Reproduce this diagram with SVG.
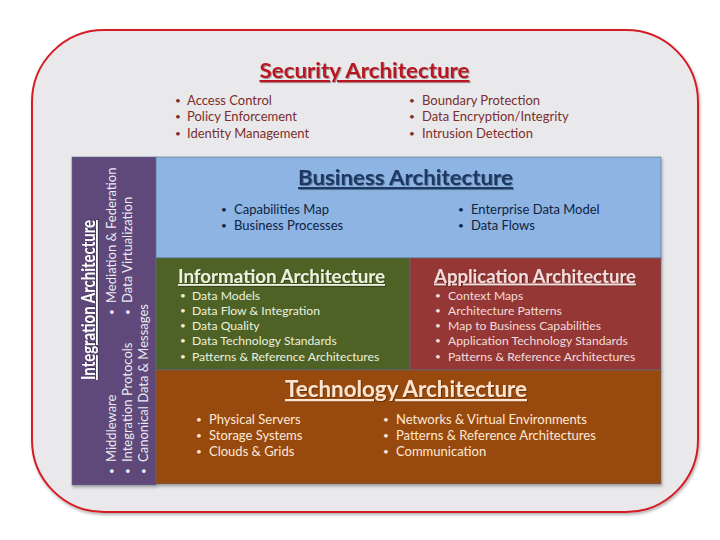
<svg xmlns="http://www.w3.org/2000/svg" width="720" height="540" viewBox="0 0 720 540">
  <defs>
    <filter id="boxShadow" x="-5%" y="-5%" width="110%" height="115%">
      <feDropShadow dx="1" dy="2" stdDeviation="1.5" flood-color="#000" flood-opacity="0.3"/>
    </filter>
    <filter id="txtShadow" x="-5%" y="-20%" width="110%" height="150%">
      <feDropShadow dx="1" dy="1" stdDeviation="0.7" flood-color="#000" flood-opacity="0.35"/>
    </filter>
  </defs>
  <style>
    text { font-family: Lato, "Open Sans", "Liberation Sans", sans-serif; }
    .title { font-weight: bold; text-decoration: underline; filter: url(#txtShadow); }
    .box { stroke: #5a6f8f; stroke-opacity: 0.6; stroke-width: 1; filter: url(#boxShadow); }
    .b13 { font-size: 13px; }
    .b12 { font-size: 12.2px; }
    .dot { font-size: 10px; }
  </style>
  <rect width="720" height="540" fill="#ffffff"/>

  <g id="security">
    <rect x="32" y="30" width="666" height="482" rx="72" ry="72" fill="#e9e9eb" stroke="#d41f26" stroke-width="2" filter="url(#boxShadow)"/>
    <text class="title" x="364.5" y="78" text-anchor="middle" font-size="21.5" fill="#b81820" textLength="210" lengthAdjust="spacingAndGlyphs">Security Architecture</text>
    <g class="b13" fill="#7a2e2e">
      <text class="dot" x="175" y="104">•</text><text x="187" y="105">Access Control</text>
      <text class="dot" x="175" y="120">•</text><text x="187" y="121">Policy Enforcement</text>
      <text class="dot" x="175" y="137">•</text><text x="187" y="138">Identity Management</text>
      <text class="dot" x="409" y="104">•</text><text x="422" y="105">Boundary Protection</text>
      <text class="dot" x="409" y="120">•</text><text x="422" y="121">Data Encryption/Integrity</text>
      <text class="dot" x="409" y="137">•</text><text x="422" y="138">Intrusion Detection</text>
    </g>
  </g>

  <g id="integration">
    <rect class="box" x="72" y="157" width="84" height="328" fill="#5f497a"/>
    <g transform="rotate(-90)">
      <text class="title" x="-300" y="95" text-anchor="middle" font-size="18" fill="#ffffff" textLength="160" lengthAdjust="spacingAndGlyphs">Integration Architecture</text>
      <g class="b13" fill="#eeeaf3">
        <text class="dot" x="-474" y="115">•</text><text x="-462" y="116">Middleware</text>
        <text class="dot" x="-474" y="131">•</text><text x="-462" y="132">Integration Protocols</text>
        <text class="dot" x="-474" y="147">•</text><text x="-462" y="148">Canonical Data &amp; Messages</text>
        <text class="dot" x="-315" y="115">•</text><text x="-303" y="116">Mediation &amp; Federation</text>
        <text class="dot" x="-315" y="131">•</text><text x="-303" y="132">Data Virtualization</text>
      </g>
    </g>
  </g>

  <g id="business">
    <rect class="box" x="156" y="157" width="505" height="101" fill="#8db4e2"/>
    <text class="title" x="405.5" y="185" text-anchor="middle" font-size="21" fill="#1f3864" textLength="215" lengthAdjust="spacingAndGlyphs">Business Architecture</text>
    <g class="b13" fill="#10233f">
      <text class="dot" x="221" y="213">•</text><text x="234" y="214">Capabilities Map</text>
      <text class="dot" x="221" y="229">•</text><text x="234" y="230">Business Processes</text>
      <text class="dot" x="458" y="213">•</text><text x="471" y="214">Enterprise Data Model</text>
      <text class="dot" x="458" y="229">•</text><text x="471" y="230">Data Flows</text>
    </g>
  </g>

  <g id="information">
    <rect class="box" x="156" y="258" width="254" height="112" fill="#4f6228"/>
    <text class="title" x="281.5" y="283" text-anchor="middle" font-size="18" fill="#ebf1de" textLength="207" lengthAdjust="spacingAndGlyphs">Information Architecture</text>
    <g class="b12" fill="#ebf1de">
      <text class="dot" x="180" y="298.5">•</text><text x="192" y="299.5">Data Models</text>
      <text class="dot" x="180" y="313.5">•</text><text x="192" y="314.5">Data Flow &amp; Integration</text>
      <text class="dot" x="180" y="329">•</text><text x="192" y="330">Data Quality</text>
      <text class="dot" x="180" y="344">•</text><text x="192" y="345">Data Technology Standards</text>
      <text class="dot" x="180" y="359.5">•</text><text x="192" y="360.5">Patterns &amp; Reference Architectures</text>
    </g>
  </g>

  <g id="application">
    <rect class="box" x="410" y="258" width="251" height="112" fill="#953735"/>
    <text class="title" x="535" y="282.5" text-anchor="middle" font-size="18" fill="#f2dcdb" textLength="202" lengthAdjust="spacingAndGlyphs">Application Architecture</text>
    <g class="b12" fill="#f2dcdb">
      <text class="dot" x="435" y="298.5">•</text><text x="448" y="299.5">Context Maps</text>
      <text class="dot" x="435" y="313.5">•</text><text x="448" y="314.5">Architecture Patterns</text>
      <text class="dot" x="435" y="329">•</text><text x="448" y="330">Map to Business Capabilities</text>
      <text class="dot" x="435" y="344">•</text><text x="448" y="345">Application Technology Standards</text>
      <text class="dot" x="435" y="359.5">•</text><text x="448" y="360.5">Patterns &amp; Reference Architectures</text>
    </g>
  </g>

  <g id="technology">
    <rect class="box" x="156" y="370" width="505" height="114" fill="#984807"/>
    <text class="title" x="406" y="397" text-anchor="middle" font-size="22" fill="#fce4d0" textLength="242" lengthAdjust="spacingAndGlyphs">Technology Architecture</text>
    <g class="b13" fill="#fde9d9">
      <text class="dot" x="196" y="422.5">•</text><text x="209" y="423.5">Physical Servers</text>
      <text class="dot" x="196" y="438.5">•</text><text x="209" y="439.5">Storage Systems</text>
      <text class="dot" x="196" y="455">•</text><text x="209" y="456">Clouds &amp; Grids</text>
      <text class="dot" x="383" y="422.5">•</text><text x="396" y="423.5">Networks &amp; Virtual Environments</text>
      <text class="dot" x="383" y="438.5">•</text><text x="396" y="439.5">Patterns &amp; Reference Architectures</text>
      <text class="dot" x="383" y="455">•</text><text x="396" y="456">Communication</text>
    </g>
  </g>

  <g id="connectors"/>
</svg>
